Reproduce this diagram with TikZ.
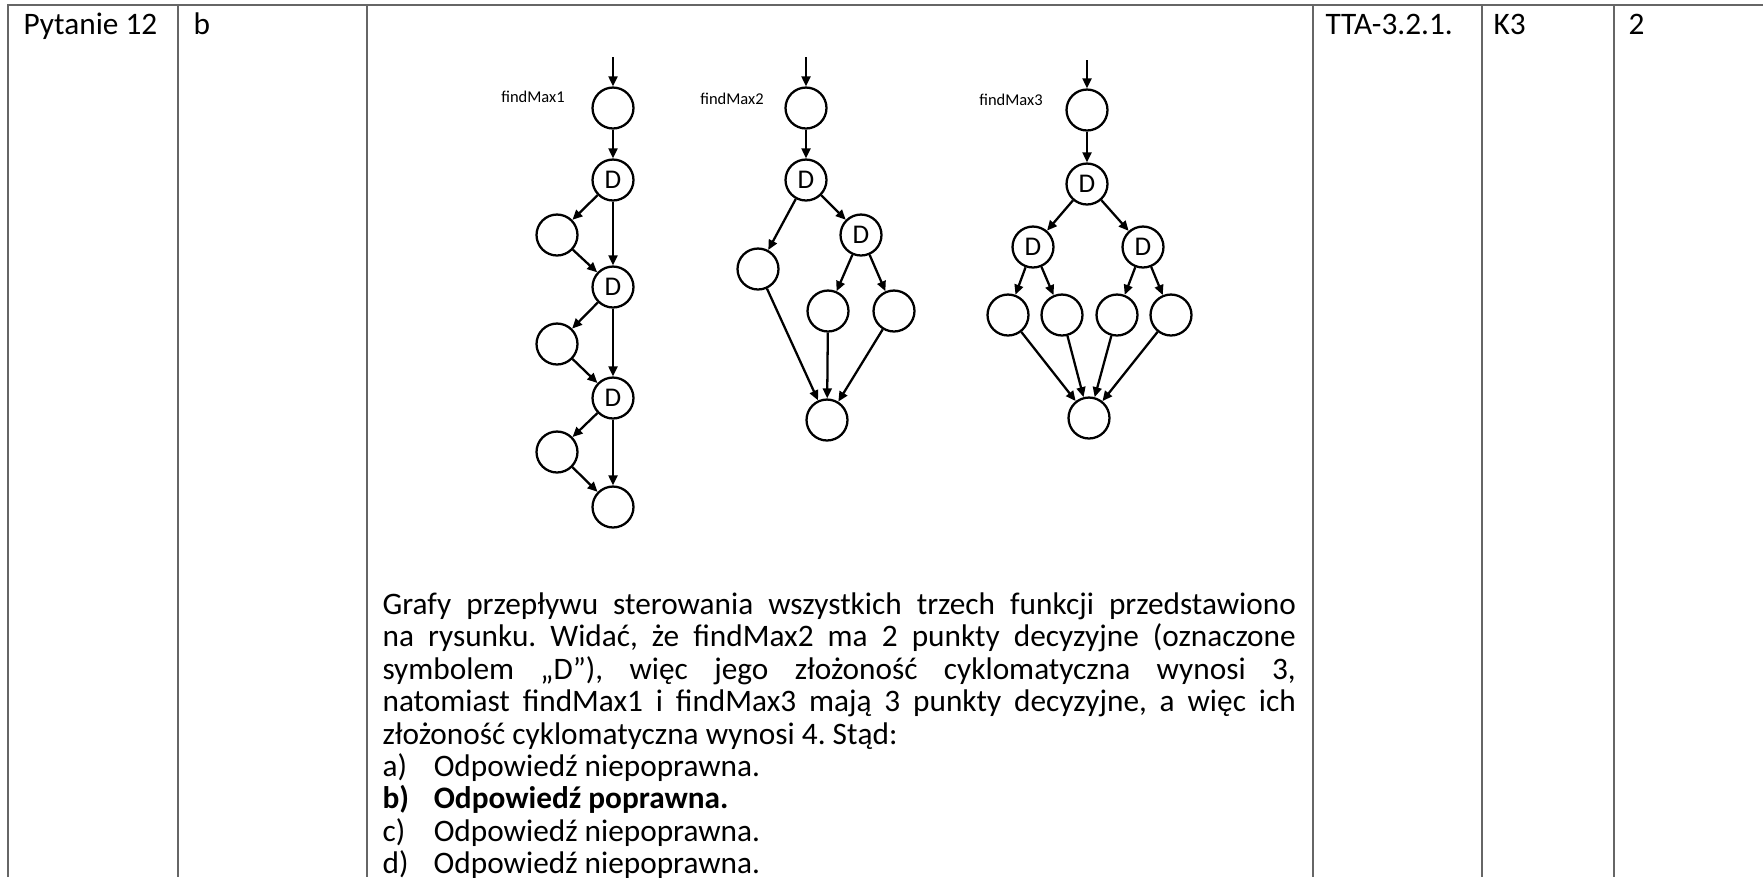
\documentclass[tikz,border=0pt]{standalone}
\usepackage{fontspec}
\setmainfont{Carlito}
\usetikzlibrary{arrows.meta}

\begin{document}
\begin{tikzpicture}[x=0.3515pt,y=-0.3515pt,
    grid/.style={draw=black!60,line width=0.7pt},
    cell/.style={anchor=base west,inner sep=0pt,font=\fontsize{11}{13}\selectfont},
    blk/.style={circle,draw,line width=0.8pt,minimum size=14.4pt,inner sep=0pt,font=\fontsize{9.5}{10}\selectfont},
    flow/.style={-{Triangle[length=3.5pt,width=3.1pt]},line width=0.8pt},
    fname/.style={inner sep=0pt,font=\fontsize{5.8}{7}\selectfont}]
  \useasboundingbox (0,0) rectangle (1763,877);
  % table
  \draw[grid] (8,877) -- (8,4.7) -- (1763,4.7);
  \foreach \x in {178,367,1313,1482,1614}
    \draw[grid] (\x,4.7) -- (\x,877);
  \node[cell] (q) at (23,34) {Pytanie 12};
  \node[cell] (ans) at (193,34) {b};
  \node[cell] (ref) at (1325,34) {TTA-3.2.1.};
  \node[cell] (lvl) at (1493,34) {K3};
  \node[cell] (pts) at (1628,34) {2};

  % findMax1
  \node[fname] (t1) at (533,97) {findMax1};
  \coordinate (in1) at (613,57);
  \node[blk] (a0) at (613,108) {};
  \node[blk] (a1) at (613,180) {D};
  \node[blk] (a2) at (557,235) {};
  \node[blk] (a3) at (613,287) {D};
  \node[blk] (a4) at (557,344) {};
  \node[blk] (a5) at (613,398) {D};
  \node[blk] (a6) at (557,452) {};
  \node[blk] (a7) at (613,507) {};
  \draw[flow] (in1) -- (a0);
  \draw[flow] (a0) -- (a1);
  \draw[flow] (a1) -- (a2);
  \draw[flow] (a1) -- (a3);
  \draw[flow] (a2) -- (a3);
  \draw[flow] (a3) -- (a4);
  \draw[flow] (a3) -- (a5);
  \draw[flow] (a4) -- (a5);
  \draw[flow] (a5) -- (a6);
  \draw[flow] (a5) -- (a7);
  \draw[flow] (a6) -- (a7);

  % findMax2
  \node[fname] (t2) at (732,99) {findMax2};
  \coordinate (in2) at (806,57);
  \node[blk] (b0) at (806,108) {};
  \node[blk] (b1) at (806,180) {D};
  \node[blk] (b2) at (758,269) {};
  \node[blk] (b3) at (861,235) {D};
  \node[blk] (b4) at (828,311) {};
  \node[blk] (b5) at (894,311) {};
  \node[blk] (b6) at (827,420) {};
  \draw[flow] (in2) -- (b0);
  \draw[flow] (b0) -- (b1);
  \draw[flow] (b1) -- (b2);
  \draw[flow] (b1) -- (b3);
  \draw[flow] (b3) -- (b4);
  \draw[flow] (b3) -- (b5);
  \draw[flow] (b2) -- (b6);
  \draw[flow] (b4) -- (b6);
  \draw[flow] (b5) -- (b6);

  % findMax3
  \node[fname] (t3) at (1011,100) {findMax3};
  \coordinate (in3) at (1087,60);
  \node[blk] (c0) at (1087,110) {};
  \node[blk] (c1) at (1087,184) {D};
  \node[blk] (c2) at (1033,247) {D};
  \node[blk] (c3) at (1143,247) {D};
  \node[blk] (c4) at (1008,315) {};
  \node[blk] (c5) at (1062,315) {};
  \node[blk] (c6) at (1117,315) {};
  \node[blk] (c7) at (1171,315) {};
  \node[blk] (c8) at (1089,418) {};
  \draw[flow] (in3) -- (c0);
  \draw[flow] (c0) -- (c1);
  \draw[flow] (c1) -- (c2);
  \draw[flow] (c1) -- (c3);
  \draw[flow] (c2) -- (c4);
  \draw[flow] (c2) -- (c5);
  \draw[flow] (c3) -- (c6);
  \draw[flow] (c3) -- (c7);
  \foreach \n in {c4,c5,c6,c7}
    \draw[flow] (\n) -- (c8);

  % explanation
  \node[anchor=north west,inner sep=0pt,text width=321pt,align=justify,
    font=\fontsize{11}{11.4}\selectfont] (txt) at (382,592)
    {\frenchspacing\hyphenpenalty=10000 \emergencystretch=2em
     Grafy przepływu sterowania wszystkich trzech funkcji przedstawiono\linebreak
     na rysunku. Widać, że findMax2 ma 2 punkty decyzyjne (oznaczone\linebreak
     symbolem „D”), więc jego złożoność cyklomatyczna wynosi 3,\linebreak
     natomiast findMax1 i findMax3 mają 3 punkty decyzyjne, a więc ich\linebreak
     złożoność cyklomatyczna wynosi 4. Stąd:\par
     \makebox[18pt][l]{a)}Odpowiedź niepoprawna.\par
     \textbf{\makebox[18pt][l]{b)}Odpowiedź poprawna.}\par
     \makebox[18pt][l]{c)}Odpowiedź niepoprawna.\par
     \makebox[18pt][l]{d)}Odpowiedź niepoprawna.\par};
\end{tikzpicture}
\end{document}
